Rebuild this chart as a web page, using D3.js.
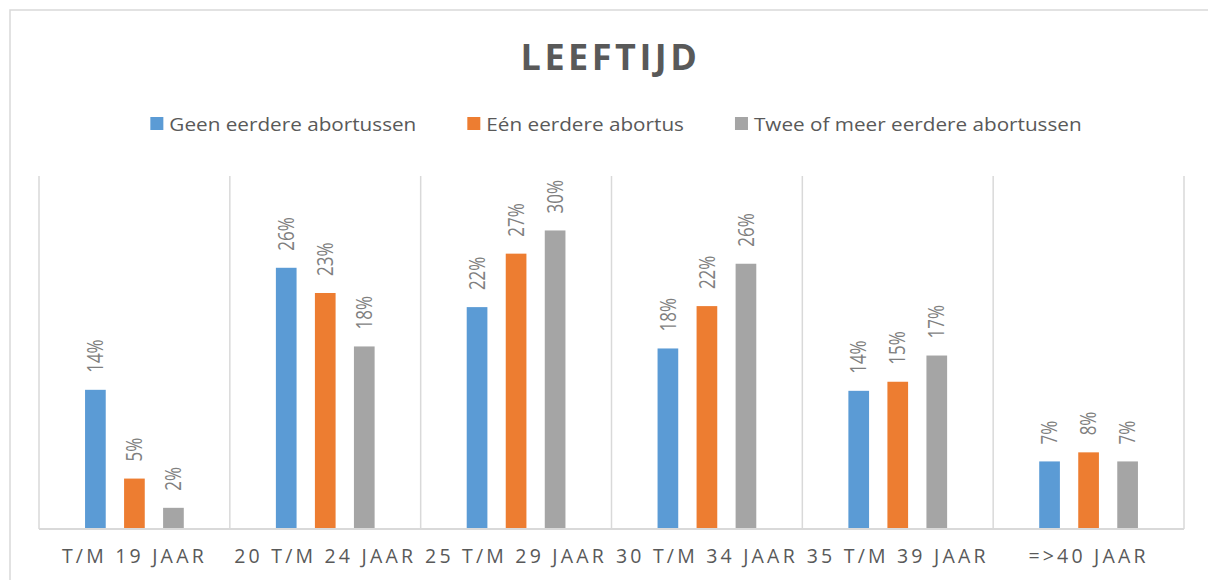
<!DOCTYPE html>
<html>
<head>
<meta charset="utf-8">
<script src="https://cdn.jsdelivr.net/npm/d3@7"></script>
<style>
  body { margin: 0; background: #fff; }
  svg { display: block; font-family: "Open Sans", sans-serif; }
</style>
</head>
<body>
<div class="chart"></div>
<script>
// chart data
const categories = ["T/M 19 JAAR", "20 T/M 24 JAAR", "25 T/M 29 JAAR", "30 T/M 34 JAAR", "35 T/M 39 JAAR", "=>40 JAAR"];
const seriesNames = ["Geen eerdere abortussen", "Eén eerdere abortus", "Twee of meer eerdere abortussen"];
const geenEerdere = [0.138, 0.259, 0.220, 0.179, 0.137, 0.067];
const eenEerdere = [0.050, 0.234, 0.273, 0.221, 0.146, 0.076];
const tweeOfMeer = [0.021, 0.181, 0.296, 0.263, 0.172, 0.067];
const colors = ["#5b9bd5", "#ed7d31", "#a5a5a5"];

function chartBar() {
  let width = 1208,
    height = 580,
    left = 39,
    right = 1184,
    top = 176,
    bottom = 529;

  let values = [geenEerdere, eenEerdere, tweeOfMeer];

  let svg = d3
    .select(".chart")
    .append("svg")
    .attr("width", width)
    .attr("height", height);

  // outer chart border
  svg
    .append("rect")
    .attr("x", 10)
    .attr("y", 10)
    .attr("width", 1212)
    .attr("height", 600)
    .attr("fill", "none")
    .attr("stroke", "#d9d9d9")
    .attr("stroke-width", 1.5);

  let x0 = d3.scaleBand().domain(categories).range([left, right]).padding(0);

  let x1 = d3
    .scaleBand()
    .domain(d3.range(seriesNames.length))
    .range([0, x0.bandwidth()])
    .paddingInner(0.47)
    .paddingOuter(1.18);

  let y = d3.scaleLinear().domain([0, 0.35]).range([bottom, top]);

  // vertical separators between categories
  let seps = categories.map((c) => x0(c)).concat([right]);
  svg
    .selectAll("line.sep")
    .data(seps)
    .enter()
    .append("line")
    .attr("class", "sep")
    .attr("x1", (d) => d)
    .attr("x2", (d) => d)
    .attr("y1", top)
    .attr("y2", bottom)
    .attr("stroke", "#d9d9d9")
    .attr("stroke-width", 1.5);

  // bars + labels
  values.forEach((vals, s) => {
    let g = svg.append("g");
    g.selectAll("rect")
      .data(vals)
      .enter()
      .append("rect")
      .attr("x", (d, i) => x0(categories[i]) + x1(s))
      .attr("y", (d) => y(d))
      .attr("width", x1.bandwidth())
      .attr("height", (d) => bottom - y(d))
      .attr("fill", colors[s]);

    g.selectAll("text")
      .data(vals)
      .enter()
      .append("text")
      .attr(
        "transform",
        (d, i) =>
          "translate(" +
          (x0(categories[i]) + x1(s) + x1.bandwidth() / 2) +
          "," +
          (y(d) - 17) +
          ") scale(1.25,1) rotate(-90)"
      )
      .attr("dy", "0.36em")
      .attr("font-size", 17)
      .attr("fill", "#7f7f7f")
      .text((d) => d3.format(".0%")(d));
  });

  // baseline
  svg
    .append("line")
    .attr("x1", left)
    .attr("x2", right)
    .attr("y1", bottom)
    .attr("y2", bottom)
    .attr("stroke", "#d9d9d9")
    .attr("stroke-width", 2);

  // category axis
  let xAxis = d3.axisBottom(x0).tickSize(0);
  let ax = svg
    .append("g")
    .attr("transform", "translate(0," + bottom + ")")
    .call(xAxis);
  ax.select(".domain").remove();
  ax.selectAll("text")
    .attr("y", 34)
    .attr("dy", 0)
    .attr("font-family", "Open Sans")
    .attr("font-size", 19.5)
    .attr("letter-spacing", 3.2)
    .attr("fill", "#595959");

  // title
  svg
    .append("text")
    .attr("x", 610.5)
    .attr("y", 69.5)
    .attr("text-anchor", "middle")
    .attr("font-size", 36)
    .attr("font-weight", "bold")
    .attr("letter-spacing", 3.5)
    .attr("fill", "#595959")
    .text("LEEFTIJD");

  // legend
  let sx = 1.09;
  let legend = svg.append("g");
  let items = seriesNames.map((name, i) => {
    let it = legend.append("g");
    it.append("rect")
      .attr("x", 0)
      .attr("y", 117)
      .attr("width", 13)
      .attr("height", 13)
      .attr("fill", colors[i]);
    let t = it
      .append("text")
      .attr("transform", "translate(19,131) scale(" + sx + ",1)")
      .attr("font-size", 19)
      .attr("fill", "#595959")
      .text(name);
    return { g: it, w: 19 + t.node().getComputedTextLength() * sx };
  });
  let gap = 51;
  let total = d3.sum(items, (d) => d.w) + gap * (items.length - 1);
  let pos = 616 - total / 2;
  items.forEach((d) => {
    d.g.attr("transform", "translate(" + pos + ",0)");
    pos += d.w + gap;
  });
}

chartBar();
</script>
</body>
</html>
